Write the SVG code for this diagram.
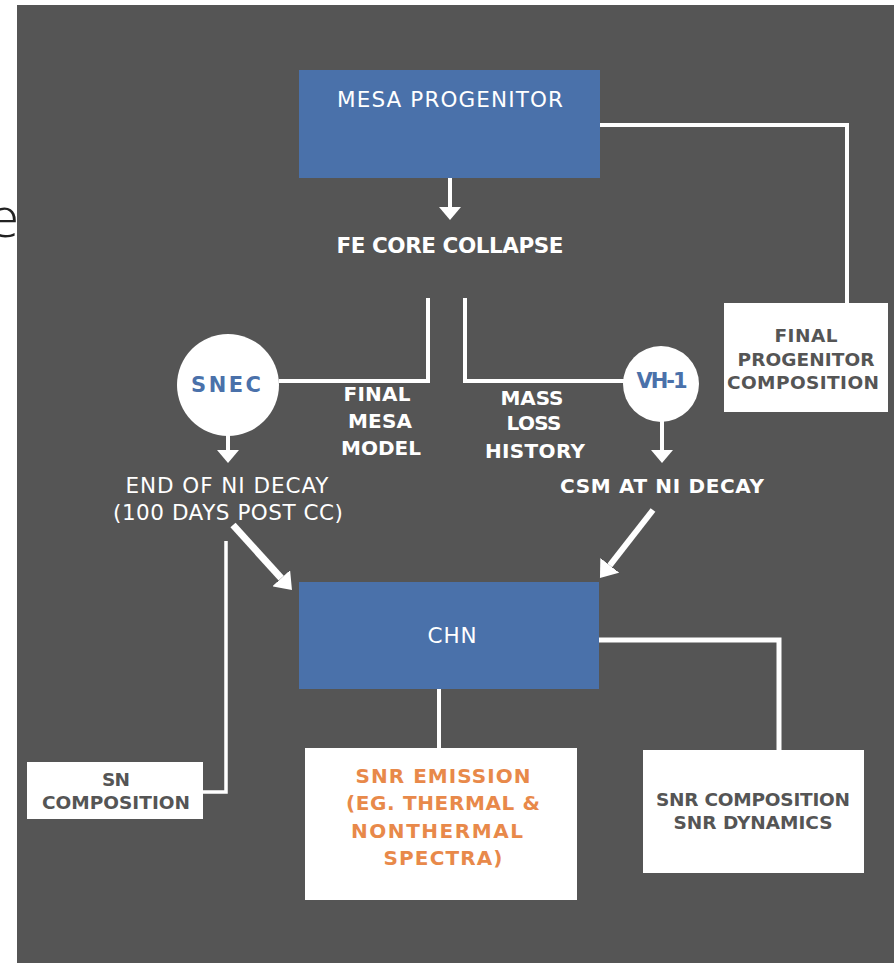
<svg xmlns="http://www.w3.org/2000/svg" width="894" height="963" viewBox="0 0 894 963">
  <defs>
    <style>
      .bg { fill: #555555; }
      .blue { fill: #4a71aa; }
      .card { fill: #ffffff; }
      .disc { fill: #ffffff; }
      .wire { fill: none; stroke: #ffffff; stroke-width: 4; stroke-linejoin: miter; }
      .shaft { fill: none; stroke: #ffffff; }
      text { font-family: "DejaVu Sans", "Liberation Sans", sans-serif; text-anchor: middle; }
      .t-reg { fill: #ffffff; font-size: 21.5px; }
      .t-bold { fill: #ffffff; font-size: 20px; font-weight: bold; }
      .t-big { fill: #ffffff; font-size: 21.5px; font-weight: bold; }
      .t-blue { fill: #4a71aa; font-size: 21px; font-weight: bold; }
      .t-dark { fill: #555555; font-size: 18.5px; font-weight: bold; }
      .t-orange { fill: #e8894a; font-size: 20px; font-weight: bold; }
    </style>
    <marker id="head" viewBox="0 0 13 22" refX="0" refY="11" markerWidth="13" markerHeight="22" markerUnits="userSpaceOnUse" orient="auto">
      <path d="M0,0 L13,11 L0,22 z" fill="#ffffff"/>
    </marker>
    <marker id="head-wide" viewBox="0 0 16 24" refX="0" refY="12" markerWidth="16" markerHeight="24" markerUnits="userSpaceOnUse" orient="auto">
      <path d="M0,0 L16,12 L0,24 z" fill="#ffffff"/>
    </marker>
  </defs>

  <!-- page margin and stray glyph at the left edge -->
  <rect x="0" y="0" width="894" height="963" fill="#ffffff"/>
  <text x="19" y="237" style="font-family:'Open Sans','DejaVu Sans',sans-serif;font-size:56px;font-weight:300;fill:#222222;text-anchor:end">e</text>

  <!-- panel -->
  <rect class="bg" x="17" y="5" width="877" height="958"/>

  <!-- connectors -->
  <g id="connectors">
    <polyline class="wire" points="600,125 847,125 847,303"/>
    <polyline class="wire" points="428,298 428,381 279,381"/>
    <polyline class="wire" points="465,298 465,381 624,381"/>
    <polyline class="wire" style="stroke-width:3.5" points="226,541 226,792 203,792"/>
    <line class="wire" x1="439" y1="689" x2="439" y2="748"/>
    <polyline class="wire" style="stroke-width:5" points="599,640 779,640 779,750"/>

    <line class="shaft" stroke-width="4" x1="450" y1="178" x2="450" y2="207" marker-end="url(#head)"/>
    <line class="shaft" stroke-width="4" x1="228" y1="430" x2="228" y2="450" marker-end="url(#head)"/>
    <line class="shaft" stroke-width="4" x1="662" y1="412" x2="662" y2="450" marker-end="url(#head)"/>
    <line class="shaft" stroke-width="7" x1="233" y1="525" x2="281.2" y2="578.2" marker-end="url(#head-wide)"/>
    <line class="shaft" stroke-width="6" x1="653" y1="510" x2="609.8" y2="565.4" marker-end="url(#head-wide)"/>
  </g>

  <!-- nodes -->
  <g id="mesa-progenitor">
    <rect class="blue" x="299" y="70" width="301" height="108"/>
    <text class="t-reg" x="450" y="107" textLength="226" lengthAdjust="spacing">MESA PROGENITOR</text>
  </g>

  <g id="fe-core-collapse">
    <text class="t-big" x="450" y="253" textLength="227" lengthAdjust="spacing">FE CORE COLLAPSE</text>
  </g>

  <g id="final-progenitor-composition">
    <rect class="card" x="724" y="303" width="164" height="109"/>
    <text class="t-dark" x="806" y="342" textLength="63" lengthAdjust="spacing">FINAL</text>
    <text class="t-dark" x="806" y="366" textLength="137" lengthAdjust="spacing">PROGENITOR</text>
    <text class="t-dark" x="803" y="389" textLength="152" lengthAdjust="spacing">COMPOSITION</text>
  </g>

  <g id="snec">
    <circle class="disc" cx="228" cy="385" r="51"/>
    <text class="t-blue" x="226" y="392" textLength="70" lengthAdjust="spacing">SNEC</text>
  </g>

  <g id="final-mesa-model">
    <text class="t-bold" x="377" y="401" textLength="67" lengthAdjust="spacing">FINAL</text>
    <text class="t-bold" x="380" y="428" textLength="64" lengthAdjust="spacing">MESA</text>
    <text class="t-bold" x="381" y="455" textLength="80" lengthAdjust="spacing">MODEL</text>
  </g>

  <g id="vh-1">
    <circle class="disc" cx="661" cy="384" r="38"/>
    <text class="t-blue" x="662" y="388" textLength="51" lengthAdjust="spacing">VH-1</text>
  </g>

  <g id="mass-loss-history">
    <text class="t-bold" x="532" y="405" textLength="63" lengthAdjust="spacing">MASS</text>
    <text class="t-bold" x="534" y="430" textLength="55" lengthAdjust="spacing">LOSS</text>
    <text class="t-bold" x="535" y="458" textLength="100" lengthAdjust="spacing">HISTORY</text>
  </g>

  <g id="end-of-ni-decay">
    <text class="t-reg" x="227" y="493" textLength="203" lengthAdjust="spacing">END OF NI DECAY</text>
    <text class="t-reg" x="228" y="520" textLength="230" lengthAdjust="spacing">(100 DAYS POST CC)</text>
  </g>

  <g id="csm-at-ni-decay">
    <text class="t-bold" x="662" y="493" textLength="204" lengthAdjust="spacing">CSM AT NI DECAY</text>
  </g>

  <g id="chn">
    <rect class="blue" x="299" y="582" width="300" height="107"/>
    <text class="t-reg" x="452" y="643" textLength="49" lengthAdjust="spacing">CHN</text>
  </g>

  <g id="sn-composition">
    <rect class="card" x="27" y="762" width="176" height="57"/>
    <text class="t-dark" x="116" y="786" textLength="28" lengthAdjust="spacing">SN</text>
    <text class="t-dark" x="116" y="809" textLength="148" lengthAdjust="spacing">COMPOSITION</text>
  </g>

  <g id="snr-emission">
    <rect class="card" x="305" y="748" width="272" height="152"/>
    <text class="t-orange" x="443" y="783" textLength="175" lengthAdjust="spacing">SNR EMISSION</text>
    <text class="t-orange" x="443" y="810" textLength="194" lengthAdjust="spacing">(EG. THERMAL &amp;</text>
    <text class="t-orange" x="437" y="838" textLength="172" lengthAdjust="spacing">NONTHERMAL</text>
    <text class="t-orange" x="443" y="865" textLength="119" lengthAdjust="spacing">SPECTRA)</text>
  </g>

  <g id="snr-composition">
    <rect class="card" x="643" y="750" width="221" height="123"/>
    <text class="t-dark" x="753" y="806" textLength="194" lengthAdjust="spacing">SNR COMPOSITION</text>
    <text class="t-dark" x="753" y="829" textLength="159" lengthAdjust="spacing">SNR DYNAMICS</text>
  </g>
</svg>
